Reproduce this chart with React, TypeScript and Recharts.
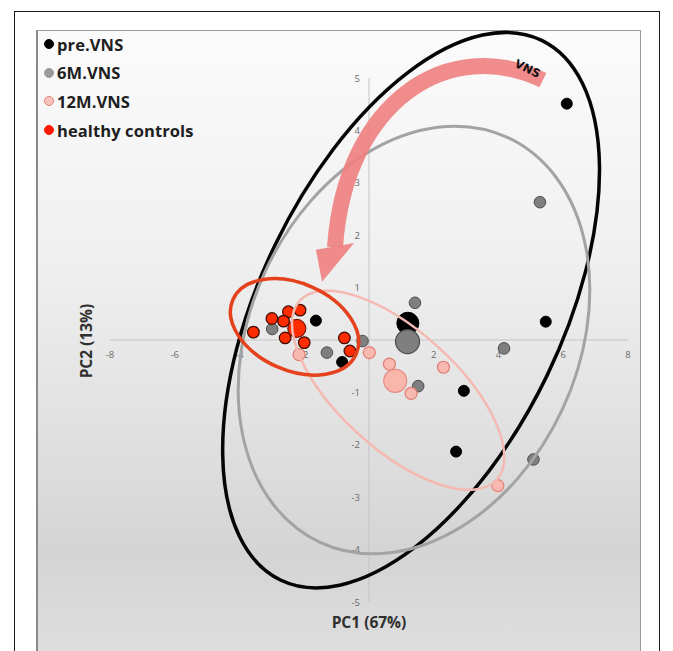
import { ScatterChart, Scatter, XAxis, YAxis, ReferenceLine } from "recharts";

// PCA scores (PC1, PC2)
const preVNS = [
  [6.11, 4.51], [5.46, 0.35], [2.93, -0.97], [2.69, -2.13], [-1.64, 0.37], [-0.83, -0.42],
];
const preVNSMean = [[1.2, 0.32]];
const sixMonth = [
  [5.28, 2.63], [1.42, 0.71], [4.17, -0.16], [1.52, -0.88], [5.08, -2.28],
  [-0.2, -0.02], [-1.3, -0.24], [-2.99, 0.21],
];
const sixMonthMean = [[1.19, -0.03]];
const twelveMonth = [
  [0.01, -0.24], [0.63, -0.46], [1.3, -1.02], [2.3, -0.52], [3.98, -2.78], [-2.16, -0.28],
];
const twelveMonthMean = [[0.81, -0.78]];
const healthy = [
  [-2.49, 0.54], [-3.0, 0.41], [-2.64, 0.36], [-2.13, 0.57], [-3.57, 0.15],
  [-2.59, 0.04], [-2.0, -0.05], [-0.76, 0.04], [-0.59, -0.21],
];
const healthyMean = [[-2.23, 0.22]];

// confidence ellipses: centre x, centre y, half width, half height, correlation
const ellipses = [
  { name: "pre.VNS", c: [1.3, 0.57], hx: 5.82, hy: 5.3, rho: 0.503, stroke: "#050505", w: 3.5 },
  { name: "6M.VNS", c: [1.39, 0.0], hx: 5.43, hy: 4.08, rho: 0.233, stroke: "#a3a3a3", w: 3 },
  { name: "12M.VNS", c: [0.9, -0.96], hx: 3.28, hy: 1.9, rho: -0.67, stroke: "#f4b9b1", w: 2.5 },
  { name: "healthy controls", c: [-2.3, 0.25], hx: 1.98, hy: 0.92, rho: -0.316, stroke: "#e5411d", w: 3.5 },
];

// curved "VNS" arrow, in data units
const arrowCurve = [[5.37, 4.96], [2.5, 5.82], [-0.74, 4.58], [-1.05, 1.77]];
const arrowHead = [[-1.64, 1.72], [-1.45, 1.11], [-0.46, 1.85]];
const arrowLabelAt = [4.9, 5.18];

const xTicks = [-8, -6, -4, -2, 0, 2, 4, 6, 8];
const yTicks = [5, 4, 3, 2, 1, -1, -2, -3, -4, -5];

const legendItems = [
  { label: "pre.VNS", fill: "#000000", stroke: "#000000" },
  { label: "6M.VNS", fill: "#9a9a9a", stroke: "#9a9a9a" },
  { label: "12M.VNS", fill: "#f7c4bd", stroke: "#e0827a" },
  { label: "healthy controls", fill: "#ff1800", stroke: "#ff1800" },
];

const W = 673;
const H = 651;
const margin = { top: 78, right: 45, bottom: 49, left: 110 };
const X_DOMAIN = [-8, 8];
const Y_DOMAIN = [-5, 5];
const KX = (W - margin.left - margin.right) / (X_DOMAIN[1] - X_DOMAIN[0]);
const KY = (H - margin.top - margin.bottom) / (Y_DOMAIN[1] - Y_DOMAIN[0]);

const toPts = (arr: number[][]) => arr.map(([x, y]) => ({ x, y }));

const dot = (r: number, fill: string, stroke: string, sw: number) => (p: any) =>
  <circle cx={p.cx} cy={p.cy} r={r} fill={fill} stroke={stroke} strokeWidth={sw} />;

const ellipseShape = (e: any) => (p: any) => {
  const ax = e.hx * KX;
  const ay = e.hy * KY;
  const sxx = ax * ax;
  const syy = ay * ay;
  const sxy = -e.rho * ax * ay;
  const theta = 0.5 * Math.atan2(2 * sxy, sxx - syy);
  const mid = (sxx + syy) / 2;
  const d = Math.sqrt(((sxx - syy) / 2) ** 2 + sxy * sxy);
  const rx = Math.sqrt(mid + d);
  const ry = Math.sqrt(Math.max(mid - d, 0));
  return (
    <ellipse
      cx={p.cx}
      cy={p.cy}
      rx={rx}
      ry={ry}
      transform={`rotate(${(theta * 180) / Math.PI} ${p.cx} ${p.cy})`}
      fill="none"
      stroke={e.stroke}
      strokeWidth={e.w}
    />
  );
};

// drawn from the origin point, so offsets come from the same scale
const arrowShape = (p: any) => {
  const px = (v: number[]) => `${p.cx + v[0] * KX},${p.cy - v[1] * KY}`;
  const [a, b, c, d] = arrowCurve;
  const [lx, ly] = [p.cx + arrowLabelAt[0] * KX, p.cy - arrowLabelAt[1] * KY];
  return (
    <g>
      <path
        d={`M${px(a)} C${px(b)} ${px(c)} ${px(d)}`}
        fill="none"
        stroke="#ef7f7f"
        strokeOpacity={0.9}
        strokeWidth={16}
      />
      <polygon points={arrowHead.map(px).join(" ")} fill="#ef7f7f" fillOpacity={0.9} />
      <text
        x={lx}
        y={ly}
        transform={`rotate(26 ${lx} ${ly})`}
        textAnchor="middle"
        dominantBaseline="central"
        fontFamily="'DejaVu Sans', sans-serif"
        fontWeight="bold"
        fontSize={11.5}
        fill="#111"
      >
        VNS
      </text>
    </g>
  );
};

const xTickShape = (p: any) => (
  <text x={p.cx} y={p.cy + 18} textAnchor="middle" fontSize={9.5} fill="#6a6a6a" fontFamily="'Open Sans', sans-serif">
    {p.payload.x}
  </text>
);
const yTickShape = (p: any) => (
  <text x={p.cx - 9} y={p.cy + 3.5} textAnchor="end" fontSize={9.5} fill="#6a6a6a" fontFamily="'Open Sans', sans-serif">
    {p.payload.y}
  </text>
);

export default function App() {
  return (
    <div
      style={{
        position: "absolute",
        left: 0,
        top: 0,
        width: W,
        height: H,
        overflow: "hidden",
        background: "#fff",
        fontFamily: "'Open Sans', sans-serif",
      }}
    >
      <div
        style={{
          position: "absolute",
          left: 14,
          top: 11,
          width: 646,
          height: 700,
          border: "1.5px solid #1a1a1a",
          boxSizing: "border-box",
        }}
      />
      <div
        style={{
          position: "absolute",
          left: 36,
          top: 30,
          width: 605,
          height: 640,
          border: "1px solid #9a9a9a",
          borderLeft: "2px solid #8a8a8a",
          boxSizing: "border-box",
          background:
            "linear-gradient(to bottom, #fbfbfb 0%, #f0f0f0 35%, #e2e2e2 60%, #d4d4d4 82%, #e0e0e0 100%)",
        }}
      />

      <div style={{ position: "absolute", left: 0, top: 0 }}>
        <ScatterChart width={W} height={H} margin={margin}>
          <XAxis type="number" dataKey="x" domain={X_DOMAIN} hide />
          <YAxis type="number" dataKey="y" domain={Y_DOMAIN} hide />
          <ReferenceLine y={0} stroke="#c4c4c4" strokeWidth={1} />
          <ReferenceLine x={0} stroke="#c4c4c4" strokeWidth={1} />
          <Scatter data={xTicks.map((t) => ({ x: t, y: 0 }))} shape={xTickShape} isAnimationActive={false} />
          <Scatter data={yTicks.map((t) => ({ x: 0, y: t }))} shape={yTickShape} isAnimationActive={false} />

          <Scatter name="pre.VNS" data={toPts(preVNS)} shape={dot(5.5, "#000", "#000", 1)} isAnimationActive={false} />
          <Scatter name="6M.VNS" data={toPts(sixMonth)} shape={dot(5.8, "#7f7f7f", "#4d4d4d", 1)} isAnimationActive={false} />
          <Scatter name="12M.VNS" data={toPts(twelveMonth)} shape={dot(6, "#f7b9b0", "#e27d73", 1.2)} isAnimationActive={false} />
          <Scatter name="healthy controls" data={toPts(healthy)} shape={dot(5.8, "#ff2c00", "#3b0a00", 1.2)} isAnimationActive={false} />

          <Scatter data={toPts(preVNSMean)} shape={dot(11, "#000", "#000", 1)} isAnimationActive={false} />
          <Scatter data={toPts(sixMonthMean)} shape={dot(12, "#7f7f7f", "#4a4a4a", 1.2)} isAnimationActive={false} />
          <Scatter data={toPts(twelveMonthMean)} shape={dot(11.5, "#f9b7ab", "#e88a80", 1.2)} isAnimationActive={false} />
          <Scatter data={toPts(healthyMean)} shape={dot(9, "#ff2c00", "#7a1400", 1.2)} isAnimationActive={false} />

          {ellipses.map((e) => (
            <Scatter
              key={e.name}
              data={[{ x: e.c[0], y: e.c[1] }]}
              shape={ellipseShape(e)}
              isAnimationActive={false}
            />
          ))}
          <Scatter data={[{ x: 0, y: 0 }]} shape={arrowShape} isAnimationActive={false} />
        </ScatterChart>
      </div>

      {legendItems.map((it, i) => (
        <div
          key={it.label}
          style={{
            position: "absolute",
            left: 44,
            top: 34 + i * 28.7,
            height: 20,
            display: "flex",
            alignItems: "center",
            whiteSpace: "nowrap",
          }}
        >
          <span
            style={{
              display: "inline-block",
              width: 10,
              height: 10,
              borderRadius: "50%",
              background: it.fill,
              border: `1px solid ${it.stroke}`,
              boxSizing: "border-box",
              marginRight: 3,
            }}
          />
          <span style={{ fontSize: 16.5, fontWeight: 700, color: "#1e1e1e", letterSpacing: 0.1 }}>{it.label}</span>
        </div>
      ))}

      <div
        style={{
          position: "absolute",
          left: 269,
          top: 611,
          width: 200,
          lineHeight: "22px",
          textAlign: "center",
          fontSize: 15.5,
          fontWeight: 700,
          color: "#2f2f2f",
        }}
      >
        PC1 (67%)
      </div>
      <div
        style={{
          position: "absolute",
          left: -14,
          top: 330,
          width: 200,
          height: 22,
          lineHeight: "22px",
          textAlign: "center",
          fontSize: 15.5,
          fontWeight: 700,
          color: "#2f2f2f",
          transform: "rotate(-90deg)",
        }}
      >
        PC2 (13%)
      </div>
    </div>
  );
}
